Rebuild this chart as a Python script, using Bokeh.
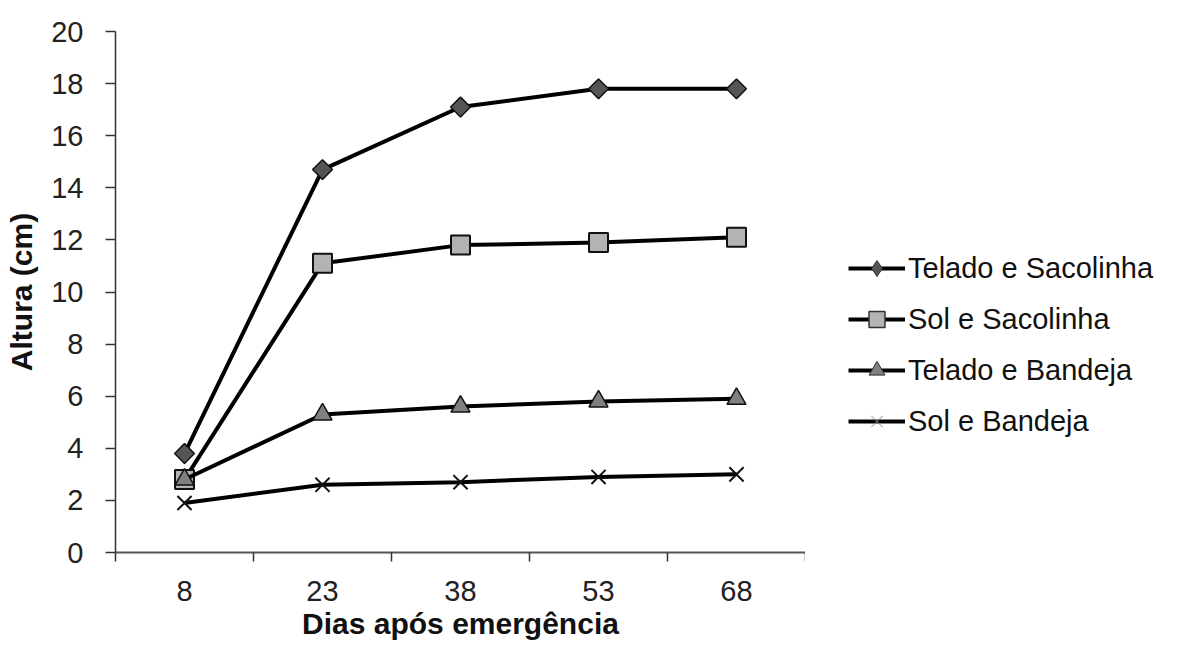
import numpy as np
from bokeh.plotting import figure
from bokeh.layouts import row
from bokeh.models import Range1d, FixedTicker, Legend, LegendItem, ColumnDataSource
from bokeh.embed import file_html
from bokeh.resources import INLINE

dias = ["8", "23", "38", "53", "68"]
telado_sacolinha = [3.8, 14.7, 17.1, 17.8, 17.8]
sol_sacolinha = [2.8, 11.1, 11.8, 11.9, 12.1]
telado_bandeja = [2.8, 5.3, 5.6, 5.8, 5.9]
sol_bandeja = [1.9, 2.6, 2.7, 2.9, 3.0]
series_names = ["Telado e Sacolinha", "Sol e Sacolinha", "Telado e Bandeja", "Sol e Bandeja"]
y_ticks = list(range(0, 21, 2))

FONT = "Liberation Sans"

p = figure(width=805, height=650, output_backend="svg", toolbar_location=None,
           x_range=Range1d(-0.5, len(dias) - 0.5), y_range=Range1d(0, 20),
           min_border_left=115, min_border_right=0, min_border_top=31,
           min_border_bottom=98)
p.background_fill_color = "white"
p.border_fill_color = "white"
p.outline_line_color = None
p.xgrid.visible = False
p.ygrid.visible = False

xs = list(range(len(dias)))

# axes
p.yaxis.ticker = FixedTicker(ticks=y_ticks)
p.yaxis.major_tick_out = 10
p.yaxis.major_tick_in = 0
p.yaxis.minor_tick_out = 0
p.yaxis.minor_tick_in = 0
p.yaxis.major_label_standoff = 22
p.yaxis.axis_line_color = "#333333"
p.yaxis.axis_line_width = 1.5
p.yaxis.major_tick_line_color = "#333333"
p.yaxis.major_tick_line_width = 1.5
p.yaxis.major_label_text_font = FONT
p.yaxis.major_label_text_font_size = "29px"
p.yaxis.major_label_text_color = "#222222"
p.yaxis.axis_label = "Altura (cm)"
p.yaxis.axis_label_text_font = FONT
p.yaxis.axis_label_text_font_style = "bold"
p.yaxis.axis_label_text_font_size = "30px"
p.yaxis.axis_label_text_color = "#111111"
p.yaxis.axis_label_standoff = 10

p.xaxis.ticker = FixedTicker(ticks=xs, minor_ticks=[i - 0.5 for i in range(len(dias) + 1)])
p.xaxis.major_label_overrides = {i: d for i, d in enumerate(dias)}
p.xaxis.major_tick_out = 0
p.xaxis.major_tick_in = 0
p.xaxis.minor_tick_out = 9
p.xaxis.minor_tick_in = 0
p.xaxis.minor_tick_line_color = "#333333"
p.xaxis.minor_tick_line_width = 1.5
p.xaxis.axis_line_color = "#555555"
p.xaxis.axis_line_width = 2
p.xaxis.major_label_standoff = 19
p.xaxis.major_label_text_font = FONT
p.xaxis.major_label_text_font_size = "29px"
p.xaxis.major_label_text_color = "#222222"
p.xaxis.axis_label = "Dias após emergência"
p.xaxis.axis_label_text_font = FONT
p.xaxis.axis_label_text_font_style = "bold"
p.xaxis.axis_label_text_font_size = "30px"
p.xaxis.axis_label_text_color = "#111111"
p.xaxis.axis_label_standoff = 3

# legend panel (separate figure on the right, no axes; its view range is
# placed away from the data so only the legend key is visible)
q = figure(width=374, height=650, output_backend="svg", toolbar_location=None,
           x_axis_type=None, y_axis_type=None,
           x_range=Range1d(100, 101), y_range=Range1d(100, 101),
           min_border_left=0, min_border_right=0, min_border_top=31,
           min_border_bottom=98)
q.outline_line_color = None
q.xgrid.visible = False
q.ygrid.visible = False
q.background_fill_color = "white"
q.border_fill_color = "white"

styles = [
    dict(marker="square", angle=np.pi / 4, size=14, fill_color="#555555",
         line_color="#111111", line_width=1.5),
    dict(marker="square", size=19, fill_color="#b3b3b3",
         line_color="#111111", line_width=2),
    dict(marker="triangle", size=19, fill_color="#808080",
         line_color="#111111", line_width=1.5),
    dict(marker="x", size=20, line_color="#111111", line_width=2),
]
key_styles = [
    dict(marker="diamond", size=14, fill_color="#555555",
         line_color="#333333", line_width=1),
    dict(marker="square", size=14, fill_color="#b3b3b3",
         line_color="#333333", line_width=1.5),
    dict(marker="triangle", size=14, fill_color="#808080",
         line_color="#333333", line_width=1),
    dict(marker="x", size=14, line_color="#888888", line_width=1),
]
all_series = [telado_sacolinha, sol_sacolinha, telado_bandeja, sol_bandeja]

items = []
for vals, name, st, kst in zip(all_series, series_names, styles, key_styles):
    src = ColumnDataSource(dict(x=xs, y=vals))
    p.line("x", "y", source=src, line_color="black", line_width=4)
    p.scatter("x", "y", source=src, **st)
    lq = q.line("x", "y", source=src, line_color="black", line_width=4)
    sq = q.scatter("x", "y", source=src, **kst)
    items.append(LegendItem(label=name, renderers=[lq, sq]))

legend = Legend(items=items, location=(43, 111), orientation="vertical",
                glyph_width=57, glyph_height=40, label_height=30, spacing=11,
                label_standoff=3, padding=0, margin=0,
                label_text_font=FONT, label_text_font_size="29px",
                label_text_color="#111111",
                border_line_color=None, background_fill_alpha=0)
q.add_layout(legend, "center")

layout = row(p, q)
open("out.html", "w").write(file_html(layout, INLINE))
